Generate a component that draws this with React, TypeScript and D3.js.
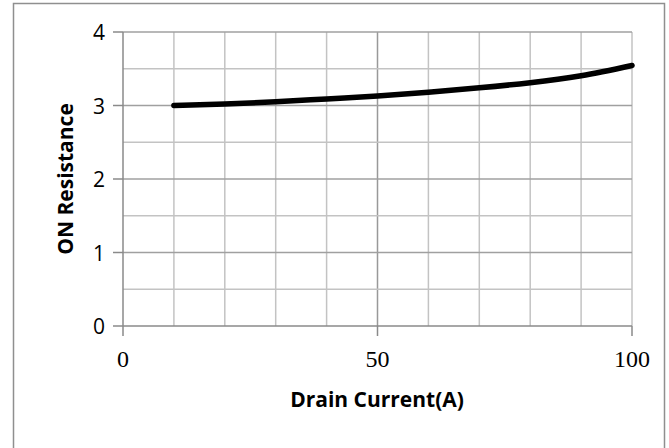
import React, { useEffect, useRef } from "react";
import * as d3 from "d3";

const current = [10, 20, 30, 40, 50, 60, 70, 80, 90, 100];
const resistance = [3.0, 3.02, 3.05, 3.09, 3.13, 3.18, 3.24, 3.31, 3.405, 3.545];
const xTicks = [0, 50, 100];
const yTicks = [0, 1, 2, 3, 4];
const xTitle = "Drain Current(A)";
const yTitle = "ON Resistance";

const W = 669;
const H = 448;
const M = { left: 123, right: 632, top: 32, bottom: 326 };

export default function App() {
  const ref = useRef<SVGSVGElement>(null);
  useEffect(() => {
    const svg = d3.select(ref.current);
    svg.selectAll("*").remove();
    const x = d3.scaleLinear().domain([0, 100]).range([M.left, M.right]);
    const y = d3.scaleLinear().domain([0, 4]).range([M.bottom, M.top]);

    svg.append("rect").attr("width", W).attr("height", H).attr("fill", "#fff");
    svg
      .append("path")
      .attr("d", `M13.5,${H + 5} V3.5 H664.5 V${H + 5}`)
      .attr("fill", "none")
      .attr("stroke", "#8f8f8f")
      .attr("stroke-width", 1.5);

    const g = svg.append("g");
    d3.range(10, 101, 10).forEach((v) => {
      g.append("line")
        .attr("x1", x(v)).attr("x2", x(v))
        .attr("y1", M.top).attr("y2", M.bottom)
        .attr("stroke", v === 50 ? "#999" : "#c3c3c3")
        .attr("stroke-width", 1.5);
    });
    d3.range(0.5, 4.01, 0.5).forEach((v) => {
      g.append("line")
        .attr("x1", M.left).attr("x2", M.right)
        .attr("y1", y(v)).attr("y2", y(v))
        .attr("stroke", Number.isInteger(v) ? "#a0a0a0" : "#c3c3c3")
        .attr("stroke-width", 1.5);
    });

    const axisColor = "#8a8a8a";
    svg.append("line")
      .attr("x1", M.left).attr("x2", M.left)
      .attr("y1", M.top).attr("y2", M.bottom + 10)
      .attr("stroke", axisColor).attr("stroke-width", 1.5);
    svg.append("line")
      .attr("x1", M.left).attr("x2", M.right)
      .attr("y1", M.bottom).attr("y2", M.bottom)
      .attr("stroke", axisColor).attr("stroke-width", 1.5);
    [50, 100].forEach((v) => {
      svg.append("line")
        .attr("x1", x(v)).attr("x2", x(v))
        .attr("y1", M.bottom).attr("y2", M.bottom + 10)
        .attr("stroke", axisColor).attr("stroke-width", 1.5);
    });

    yTicks.forEach((v) => {
      svg.append("line")
        .attr("x1", M.left - 10).attr("x2", M.left)
        .attr("y1", y(v)).attr("y2", y(v))
        .attr("stroke", axisColor).attr("stroke-width", 1.5);
      svg.append("text")
        .attr("x", 105).attr("y", y(v) + 8)
        .attr("text-anchor", "end")
        .attr("font-family", "Open Sans, Noto Sans, sans-serif")
        .attr("font-size", 21)
        .attr("fill", "#000")
        .text(String(v));
    });

    xTicks.forEach((v) => {
      svg.append("text")
        .attr("x", x(v)).attr("y", 367)
        .attr("text-anchor", "middle")
        .attr("font-family", "Liberation Serif, serif")
        .attr("font-size", 24)
        .attr("fill", "#000")
        .text(String(v));
    });

    svg.append("text")
      .attr("x", 377).attr("y", 407)
      .attr("text-anchor", "middle")
      .attr("font-family", "Open Sans, Noto Sans, sans-serif")
      .attr("font-weight", "bold")
      .attr("font-size", 21)
      .attr("fill", "#000")
      .text(xTitle);

    svg.append("text")
      .attr("transform", `translate(73,${(M.top + M.bottom) / 2}) rotate(-90)`)
      .attr("text-anchor", "middle")
      .attr("font-family", "Open Sans, Noto Sans, sans-serif")
      .attr("font-weight", "bold")
      .attr("font-size", 21)
      .attr("fill", "#000")
      .text(yTitle);

    const line = d3
      .line<number>()
      .x((_, i) => x(current[i]))
      .y((d) => y(d))
      .curve(d3.curveNatural);
    svg.append("path")
      .datum(resistance)
      .attr("d", line)
      .attr("fill", "none")
      .attr("stroke", "#000")
      .attr("stroke-width", 5.5)
      .attr("stroke-linecap", "round");
  }, []);

  return (
    <svg
      ref={ref}
      width={W}
      height={H}
      style={{ position: "absolute", left: 0, top: 0, display: "block" }}
    />
  );
}
